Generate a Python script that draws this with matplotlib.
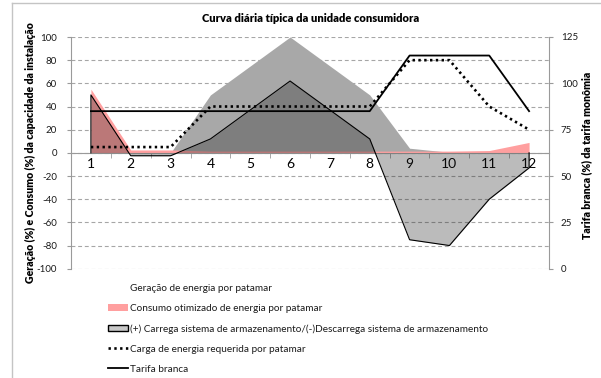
import matplotlib
matplotlib.use("Agg")
import matplotlib.pyplot as plt
from matplotlib.patches import Patch
from matplotlib.lines import Line2D

plt.rcParams["font.family"] = ["Lato", "DejaVu Sans"]

# Daily profile per tariff step (patamar)
patamares = [1, 2, 3, 4, 5, 6, 7, 8, 9, 10, 11, 12]
geracao = [0, 0, 0, 50, 75, 100, 75, 50, 4, 0.5, 0, 0]
consumo = [55, 2.5, 2.5, 1.5, 1.5, 1.5, 1.5, 1.5, 1.5, 1.5, 2, 9]
armazenamento = [50, -2.5, -2.5, 12, 37, 62, 37, 12, -75, -80, -40, -13]
carga = [5, 5, 5, 40, 40, 40, 40, 40, 80, 80, 40, 20]
tarifa = [85, 85, 85, 85, 85, 85, 85, 85, 115, 115, 115, 85]

left_ticks = [-100, -80, -60, -40, -20, 0, 20, 40, 60, 80, 100]
right_ticks = [0, 25, 50, 75, 100, 125]

titulo = "Curva diária típica da unidade consumidora"
rotulo_esq = "Geração (%) e Consumo (%) da capacidade da instalação"
rotulo_dir = "Tarifa branca (%) da tarifa monômia"
legendas = [
    "Geração de energia por patamar",
    "Consumo otimizado de energia por patamar",
    "(+) Carrega sistema de armazenamento/(-)Descarrega sistema de armazenamento",
    "Carga de energia requerida por patamar",
    "Tarifa branca",
]

W, H = 601, 378
fig = plt.figure(figsize=(W / 100, H / 100), dpi=100)
ax = fig.add_axes([71 / W, 1 - 268.7 / H, 478 / W, 231.7 / H])

c_ger = "#a8a8a8"
c_cons = "#ff9f9f"
c_arm = (0.12, 0.12, 0.12, 0.30)
c_axis = "#9a9a9a"
c_text = "#1a1a1a"

ax.fill_between(patamares, 0, geracao, color=c_ger, lw=0, zorder=1)
ax.fill_between(patamares, 0, consumo, color=c_cons, lw=0, zorder=2)
ax.fill_between(patamares, 0, armazenamento, color=c_arm, lw=0, zorder=3)
ax.plot([patamares[0]] + patamares + [patamares[-1]],
        [0] + armazenamento + [0], color="black", lw=0.8, zorder=4)
ax.plot(patamares, carga, color="black", lw=1.9, linestyle=(0, (0.9, 1.3)),
        zorder=5)

ax.set_xlim(0.5, 12.5)
ax.set_ylim(-100, 100)
ax.set_yticks(left_ticks)
ax.set_yticklabels([str(v) for v in left_ticks], fontsize=7, color=c_text)
ax.yaxis.grid(True, color="#a6a6a6", linestyle=(0, (3.5, 2.5)), lw=0.8)
ax.set_axisbelow(True)

ax.set_xticks(patamares)
ax.set_xticklabels([str(p) for p in patamares], fontsize=7, color=c_text)
ax.set_xticks([p - 0.5 for p in patamares] + [12.5], minor=True)
ax.tick_params(axis="x", which="major", length=0, pad=3.5)
ax.tick_params(axis="x", which="minor", length=3.5, direction="out",
               color=c_axis)
ax.tick_params(axis="y", length=3, color=c_axis, pad=7)
ax.spines["bottom"].set_position(("data", 0))
ax.spines["bottom"].set_color(c_axis)
ax.spines["bottom"].set_zorder(2.5)
ax.spines["left"].set_color(c_axis)
ax.spines["top"].set_visible(False)
ax.spines["right"].set_visible(False)

ax2 = ax.twinx()
ax2.plot(patamares, tarifa, color="black", lw=1.3, zorder=6)
ax2.set_ylim(0, 125)
ax2.set_yticks(right_ticks)
ax2.set_yticklabels([str(v) for v in right_ticks], fontsize=7, color=c_text)
ax2.tick_params(axis="y", length=3, color=c_axis, pad=5.5)
ax2.spines["right"].set_color(c_axis)
for s in ("top", "left", "bottom"):
    ax2.spines[s].set_visible(False)

fig.text(311 / W, 1 - 18 / H, titulo, ha="center", va="center",
         fontsize=8, fontweight="heavy")
fig.text(30 / W, 1 - 153 / H, rotulo_esq, ha="center", va="center",
         rotation=90, fontsize=7.6, fontweight="heavy")
fig.text(587 / W, 1 - 155 / H, rotulo_dir, ha="center", va="center",
         rotation=90, fontsize=7.6, fontweight="heavy")

handles = [
    Patch(facecolor="none", edgecolor="none"),
    Patch(facecolor=c_cons, edgecolor="none"),
    Patch(facecolor="#c8c8c8", edgecolor="black", lw=1.0),
    Line2D([], [], color="black", lw=1.9, linestyle=(0, (0.9, 1.3))),
    Line2D([], [], color="black", lw=1.3),
]
fig.legend(handles, legendas, loc="upper left",
           bbox_to_anchor=(108 / W, 1 - 284 / H), frameon=False,
           fontsize=7.2, handlelength=2.0, handleheight=0.6,
           handletextpad=0.15, labelspacing=1.1, borderaxespad=0,
           borderpad=0, labelcolor=c_text)

# chart area border
fig.add_artist(Line2D([12 / W, 12 / W], [0, 1 - 3 / H],
                      transform=fig.transFigure, color="#c4c4c4", lw=1))
fig.add_artist(Line2D([12 / W, 1], [1 - 3 / H, 1 - 3 / H],
                      transform=fig.transFigure, color="#c4c4c4", lw=1))

fig.savefig("out.png", dpi=100)
